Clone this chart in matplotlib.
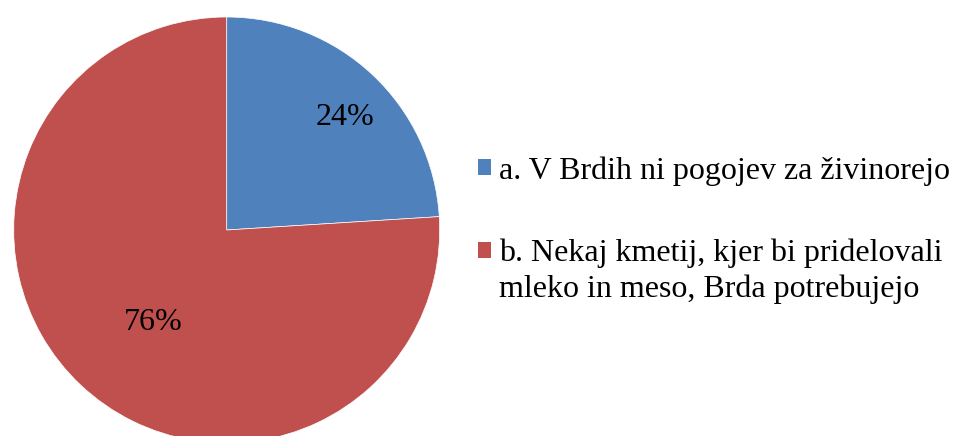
import matplotlib.pyplot as plt
from matplotlib.patches import Patch, Rectangle
from matplotlib.legend_handler import HandlerPatch

plt.rcParams['font.family'] = ['Liberation Serif', 'DejaVu Serif']

labels = ['a. V Brdih ni pogojev za živinorejo',
          'b. Nekaj kmetij, kjer bi pridelovali\nmleko in meso, Brda potrebujejo']
shares = [24, 76]
colors = ['#4F81BD', '#C0504D']

fig = plt.figure(figsize=(9.57, 4.36), dpi=100)
W, H = 957, 436
cx, cy, r = 226.7, 206, 213
ax = fig.add_axes([(cx - r) / W, (cy - r) / H, 2 * r / W, 2 * r / H])

wedges, texts, autotexts = ax.pie(shares, colors=colors, startangle=90, counterclock=False,
                                  autopct='%d%%', pctdistance=0.77, radius=1,
                                  wedgeprops=dict(edgecolor='white', linewidth=0.5),
                                  textprops=dict(fontsize=23, color='black'))
# the big slice label sits closer to the centre
x, y = autotexts[1].get_position()
autotexts[1].set_position((x * 0.55 / 0.77, y * 0.55 / 0.77))
for t in autotexts:
    t.set_va('center_baseline')
    x, y = t.get_position()
    t.set_position((x + 0.03, y - 0.015))

ax.set_xlim(-1, 1)
ax.set_ylim(-1, 1)
ax.set_aspect('equal')
ax.axis('off')


def first_line_square(legend, orig_handle, xdescent, ydescent, width, height, fontsize):
    # keep the square level with the first line of a two-line label
    return Rectangle((-xdescent, -ydescent + 0.65 * fontsize), width, height)


handles = [Patch(facecolor=c, edgecolor='none') for c in colors]
leg = fig.legend(handles, labels, loc='center left', bbox_to_anchor=(478 / W, (H - 230) / H),
                 frameon=False, fontsize=23, handlelength=0.4, handleheight=0.4,
                 handletextpad=0.25, labelspacing=1.65, borderpad=0, borderaxespad=0,
                 handler_map={handles[1]: HandlerPatch(patch_func=first_line_square)})
for t in leg.get_texts():
    t.set_linespacing(1.3)

fig.savefig('out.png', dpi=100)
